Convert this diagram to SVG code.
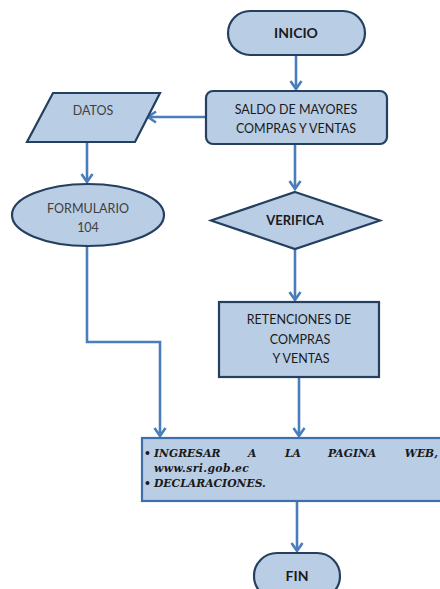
<svg xmlns="http://www.w3.org/2000/svg" width="440" height="589" viewBox="0 0 440 589">
<style>
.n{fill:#b9cde5;stroke:#243f60;stroke-width:2.2}
.c{fill:none;stroke:#4a7ebb;stroke-width:2.6}
.t{font-family:Lato,"Liberation Sans",Arial,sans-serif;font-size:12.5px;fill:#1a1a1a;text-anchor:middle}
.b{font-weight:bold;font-size:14px}
.s{font-family:"DejaVu Serif","Liberation Serif",serif;font-size:10.8px;font-weight:bold;font-style:italic;fill:#1a1a1a}
</style>
<defs>
<marker id="ah" viewBox="0 0 14 14" refX="10" refY="7" markerWidth="14" markerHeight="14" markerUnits="userSpaceOnUse" orient="auto">
<path d="M2,1.5 L10,7 L2,12.5" fill="none" stroke="#4a7ebb" stroke-width="2.6"/>
</marker>
</defs>
<g id="connectors">
<path class="c" d="M296,55 V89" marker-end="url(#ah)"/>
<path class="c" d="M206,117 H148" marker-end="url(#ah)"/>
<path class="c" d="M87,142 V182" marker-end="url(#ah)"/>
<path class="c" d="M295,144 V189" marker-end="url(#ah)"/>
<path class="c" d="M295,249 V300" marker-end="url(#ah)"/>
<path class="c" d="M87,246 V342 H160 V436" marker-end="url(#ah)"/>
<path class="c" d="M299,377 V436" marker-end="url(#ah)"/>
<path class="c" d="M297,501 V551" marker-end="url(#ah)"/>
</g>
<g id="inicio">
<rect class="n" x="228" y="11" width="137" height="44" rx="22"/>
<text class="t b" x="296" y="38">INICIO</text>
</g>
<g id="saldo">
<rect class="n" x="206" y="91" width="181" height="53" rx="7"/>
<text class="t" x="296" y="114">SALDO DE MAYORES</text>
<text class="t" x="296" y="133">COMPRAS Y VENTAS</text>
</g>
<g id="datos">
<polygon class="n" points="53,93 160,93 135,142 27,142"/>
<text class="t" x="93" y="115" style="fill:#404040">DATOS</text>
</g>
<g id="formulario">
<ellipse class="n" cx="88" cy="215" rx="76" ry="31"/>
<text class="t" x="88" y="213" style="fill:#404040">FORMULARIO</text>
<text class="t" x="88" y="232" style="fill:#404040">104</text>
</g>
<g id="verifica">
<polygon class="n" points="295,192 380,220.5 295,249 211,220.5"/>
<text class="t" x="295" y="225" style="font-weight:bold;font-size:13px">VERIFICA</text>
</g>
<g id="retenciones">
<rect class="n" x="219" y="302" width="160" height="75"/>
<text class="t" x="299" y="324">RETENCIONES DE</text>
<text class="t" x="300" y="344">COMPRAS</text>
<text class="t" x="301" y="363">Y VENTAS</text>
</g>
<g id="ingresar">
<rect x="142" y="438" width="310" height="63" fill="#b9cde5" stroke="#3f6fa8" stroke-width="2.2"/>
<text class="s" x="144" y="457">•</text>
<text class="s" x="154" y="457">INGRESAR</text>
<text class="s" x="248" y="457">A</text>
<text class="s" x="285" y="457">LA</text>
<text class="s" x="328" y="457">PAGINA</text>
<text class="s" x="438" y="457" text-anchor="end">WEB,</text>
<text class="s" x="154" y="472" style="letter-spacing:0.4px">www.sri.gob.ec</text>
<text class="s" x="144" y="487">•</text>
<text class="s" x="154" y="487">DECLARACIONES.</text>
</g>
<g id="fin">
<rect class="n" x="254" y="553" width="86" height="46" rx="23"/>
<text class="t b" x="297" y="581">FIN</text>
</g>
</svg>
